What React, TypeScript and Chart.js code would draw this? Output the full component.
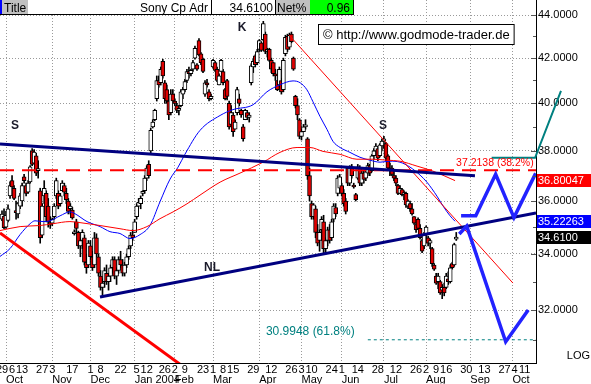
import React, { useEffect, useRef } from 'react';
import { Chart, registerables } from 'chart.js';

Chart.register(...registerables);

const FONT = '"Liberation Sans", Arial, Helvetica, sans-serif';

// x = trading-day index, 0 = Mon 29 Sep 2003
const X_MIN = -0.995;
const X_MAX = 265.67;
const Y_MIN = 30.228;
const Y_MAX = 44.718;

const dayTickIdx = [0, 5, 10, 20, 25, 35, 44, 49, 59, 67, 72, 81, 86, 91, 100, 105, 110, 115, 125, 134, 144, 149, 154, 164, 169, 177, 187, 196, 206, 211, 216, 221, 231, 240, 250, 255, 260];
const dayTickLabels = ['29', '6', '13', '27', '3', '17', '1', '8', '22', '5', '12', '26', '2', '9', '23', '1', '8', '15', '29', '12', '26', '3', '10', '24', '1', '14', '28', '12', '26', '2', '9', '16', '30', '13', '27', '4', '11'];
const monthStartIdx = [2, 25, 44, 66, 86, 105, 128, 149, 169, 190, 211, 233, 254];
const monthLabels = ['Oct', 'Nov', 'Dec', 'Jan 2004', 'Feb', 'Mar', 'Apr', 'May', 'Jun', 'Jul', 'Aug', 'Sep', 'Oct'];
const yTicks = [32, 34, 36, 38, 40, 42, 44];
const yMinorTicks = [31, 33, 35, 37, 39, 41, 43];

// daily candles [open, high, low, close]
const candles: number[][] = [
  [35.30, 35.62, 35.24, 35.50], [35.42, 35.70, 34.94, 34.98], [35.00, 35.60, 34.95, 35.45], [35.25, 35.85, 35.20, 35.70],
  [36.20, 36.75, 36.10, 36.60], [36.80, 37.00, 36.30, 36.55], [36.50, 36.60, 36.05, 36.10], [35.60, 36.00, 35.30, 35.55],
  [35.50, 35.95, 35.35, 35.90], [35.80, 36.30, 35.70, 36.20], [36.00, 36.70, 35.80, 36.60], [36.95, 37.05, 36.70, 36.80],
  [36.60, 36.70, 36.20, 36.30], [36.35, 36.80, 36.30, 36.70], [36.75, 37.40, 36.70, 37.35], [38.00, 38.10, 37.40, 37.45],
  [37.50, 38.05, 37.50, 37.95], [37.80, 37.90, 37.00, 37.10], [37.20, 37.60, 36.90, 37.25], [36.40, 36.50, 34.40, 34.60],
  [34.70, 35.90, 34.60, 35.80], [36.20, 36.80, 35.90, 36.50], [36.30, 36.40, 35.20, 35.40], [35.80, 36.10, 35.00, 35.20],
  [35.20, 35.40, 34.95, 35.10], [35.15, 35.35, 35.05, 35.30], [35.40, 35.90, 35.30, 35.80], [36.20, 36.90, 36.10, 36.80],
  [36.30, 36.40, 35.70, 35.80], [35.90, 36.30, 35.80, 36.20], [36.40, 36.80, 36.40, 36.70], [36.60, 36.70, 36.20, 36.35],
  [36.30, 36.50, 35.90, 36.05], [36.00, 36.10, 35.50, 35.60], [35.70, 35.90, 35.50, 35.80], [35.65, 35.75, 35.30, 35.35],
  [34.75, 34.90, 34.70, 34.80], [35.20, 35.30, 34.80, 34.95], [34.80, 34.85, 34.20, 34.30], [34.30, 34.60, 33.90, 34.50],
  [34.50, 34.90, 34.20, 34.80], [34.60, 34.70, 33.60, 33.70], [33.70, 34.00, 33.30, 33.50], [33.60, 34.50, 33.50, 34.40],
  [34.30, 34.50, 33.80, 33.90], [33.90, 34.10, 33.40, 33.50], [33.60, 34.80, 33.50, 34.60], [34.60, 34.75, 33.90, 34.00],
  [33.90, 34.00, 33.20, 33.30], [33.20, 33.40, 32.70, 32.80], [32.80, 33.10, 32.50, 32.95], [33.00, 33.50, 32.80, 33.40],
  [33.30, 33.60, 32.90, 33.00], [33.00, 33.30, 32.70, 33.20], [33.20, 33.60, 33.00, 33.50], [33.50, 33.90, 33.30, 33.80],
  [33.80, 33.90, 33.10, 33.20], [33.20, 33.50, 32.90, 33.40], [33.40, 33.90, 33.30, 33.80], [33.80, 34.10, 33.50, 33.60],
  [33.60, 33.80, 33.20, 33.30], [33.30, 33.70, 33.20, 33.60], [33.60, 34.00, 33.50, 33.90], [33.90, 34.30, 33.80, 34.20],
  [34.30, 34.80, 34.20, 34.70], [34.70, 34.90, 34.50, 34.60], [34.80, 35.30, 34.80, 35.20], [35.40, 35.90, 35.30, 35.80],
  [35.80, 36.10, 35.80, 35.95], [35.90, 36.20, 35.70, 36.10], [36.30, 36.40, 36.20, 36.30], [36.40, 37.00, 36.30, 36.90],
  [36.90, 37.40, 36.80, 37.30], [37.45, 37.60, 36.90, 37.00], [38.00, 38.95, 37.90, 38.85], [39.00, 39.30, 38.95, 39.20],
  [39.30, 39.75, 39.25, 39.70], [40.20, 41.20, 40.10, 41.00], [41.00, 41.20, 40.70, 40.80], [40.90, 41.60, 40.80, 41.50],
  [41.85, 41.95, 41.10, 41.20], [40.90, 41.00, 40.00, 40.20], [40.60, 40.80, 40.00, 40.10], [40.10, 40.30, 39.30, 39.50],
  [39.60, 40.60, 39.50, 40.40], [40.40, 40.60, 40.00, 40.10], [40.10, 40.20, 39.90, 40.00], [39.90, 40.00, 39.60, 39.70],
  [39.70, 39.90, 39.50, 39.75], [39.90, 40.60, 39.85, 40.50], [40.40, 40.70, 40.20, 40.60], [40.60, 41.05, 40.50, 40.95],
  [41.00, 41.50, 40.90, 41.40], [41.40, 41.60, 41.10, 41.30], [41.30, 41.50, 41.20, 41.45], [41.50, 41.90, 41.40, 41.80],
  [42.00, 42.55, 41.95, 42.45], [41.70, 41.75, 41.45, 41.50], [42.80, 42.90, 42.10, 42.15], [42.20, 42.25, 41.70, 41.80],
  [41.95, 42.00, 41.35, 41.40], [40.40, 41.00, 40.30, 40.90], [40.90, 41.05, 40.70, 40.80], [40.50, 40.60, 40.10, 40.20],
  [40.20, 40.40, 40.15, 40.30], [41.60, 41.95, 41.55, 41.90], [41.80, 41.85, 41.40, 41.45], [41.50, 41.60, 40.95, 41.00],
  [40.80, 41.30, 40.80, 41.20], [41.40, 41.95, 41.40, 41.90], [41.40, 41.50, 40.80, 40.90], [40.60, 40.65, 40.15, 40.20],
  [41.00, 41.05, 40.15, 40.30], [40.00, 40.10, 38.90, 39.00], [39.10, 39.90, 39.00, 39.60], [39.50, 39.60, 38.60, 38.80],
  [38.90, 39.30, 38.90, 39.20], [39.60, 40.70, 39.50, 40.60], [40.20, 40.40, 39.90, 40.00], [39.70, 39.75, 39.40, 39.50],
  [39.00, 39.10, 38.40, 38.50], [39.30, 39.75, 39.30, 39.70], [39.60, 39.70, 39.30, 39.40], [39.40, 39.60, 39.20, 39.50],
  [40.90, 41.75, 40.80, 41.65], [41.60, 41.95, 41.35, 41.85], [42.10, 42.15, 41.60, 41.70], [41.80, 42.40, 41.70, 42.30],
  [42.40, 42.85, 42.30, 42.80], [42.70, 42.75, 42.30, 42.35], [42.85, 43.70, 42.80, 43.60], [43.10, 43.20, 42.20, 42.30],
  [42.30, 42.45, 42.05, 42.40], [42.40, 42.45, 41.85, 41.90], [41.90, 42.00, 41.35, 41.50], [41.80, 41.80, 41.20, 41.30],
  [41.30, 41.50, 41.00, 41.20], [41.00, 41.00, 40.55, 40.60], [40.80, 41.60, 40.70, 41.50], [41.00, 41.10, 40.40, 40.50],
  [40.60, 42.00, 40.50, 41.90], [42.20, 43.05, 42.10, 42.95], [43.00, 43.10, 42.30, 42.40], [42.50, 43.15, 42.40, 43.05],
  [43.10, 43.20, 42.70, 42.75], [42.00, 42.05, 41.45, 41.50], [40.30, 40.35, 39.80, 39.90], [39.90, 40.20, 39.30, 39.50],
  [39.30, 39.35, 38.50, 38.60], [38.60, 38.90, 38.45, 38.80], [38.80, 39.10, 38.80, 39.00], [39.00, 39.30, 38.90, 39.05],
  [38.50, 38.55, 36.85, 37.00], [37.00, 37.30, 36.00, 36.20], [35.90, 36.00, 35.30, 35.40], [35.40, 35.90, 35.30, 35.85],
  [35.70, 35.80, 34.60, 34.80], [34.80, 35.10, 34.30, 34.40], [34.50, 34.90, 34.10, 34.80], [34.90, 35.40, 34.50, 35.30],
  [35.20, 35.45, 34.00, 34.20], [34.20, 34.60, 34.00, 34.50], [34.50, 35.00, 34.30, 34.90], [34.90, 35.10, 34.40, 34.50],
  [34.60, 35.30, 34.50, 35.20], [35.30, 35.90, 35.20, 35.80], [35.75, 35.90, 35.40, 35.50], [36.30, 37.00, 36.20, 36.90],
  [36.50, 37.05, 36.30, 36.95], [36.60, 36.70, 36.20, 36.30], [36.30, 36.45, 35.80, 35.90], [36.00, 36.10, 35.50, 35.60],
  [37.30, 37.35, 36.60, 36.70], [36.70, 37.40, 36.60, 37.30], [37.30, 37.45, 36.90, 37.00], [36.60, 36.70, 36.50, 36.55],
  [36.25, 36.30, 36.00, 36.05], [36.90, 37.45, 36.85, 37.35], [37.30, 37.40, 36.60, 36.70], [36.70, 37.20, 36.60, 37.10],
  [37.10, 37.20, 36.70, 36.85], [36.90, 37.20, 36.80, 37.15], [37.10, 37.50, 37.00, 37.40], [37.40, 37.45, 37.00, 37.10],
  [37.20, 37.85, 37.15, 37.80], [37.80, 38.10, 37.65, 38.00], [38.00, 38.30, 37.80, 38.20], [38.10, 38.10, 37.60, 37.70],
  [37.80, 38.30, 37.75, 38.25], [38.20, 38.50, 38.00, 38.40], [38.40, 38.60, 38.10, 38.50], [38.30, 38.35, 37.60, 37.70],
  [37.80, 37.85, 37.20, 37.30], [37.30, 37.50, 37.00, 37.20], [37.30, 37.40, 37.00, 37.05], [37.00, 37.20, 36.80, 36.90],
  [36.90, 37.00, 36.60, 36.70], [36.60, 36.65, 36.25, 36.30], [36.30, 36.60, 36.30, 36.50], [36.45, 36.50, 36.20, 36.25],
  [36.25, 36.40, 36.05, 36.30], [36.30, 36.35, 35.75, 35.85], [35.80, 36.05, 35.70, 36.00], [35.90, 36.00, 35.60, 35.70],
  [35.70, 35.90, 35.45, 35.50], [35.40, 35.40, 35.10, 35.15], [35.10, 35.30, 34.80, 34.90], [35.30, 35.35, 34.90, 34.95],
  [34.95, 35.10, 34.55, 34.60], [34.50, 34.55, 34.05, 34.10], [34.30, 34.80, 34.20, 34.70], [34.70, 35.05, 34.60, 35.00],
  [34.60, 34.65, 34.30, 34.40], [34.40, 34.55, 34.20, 34.50], [34.20, 34.25, 33.55, 33.65], [33.60, 33.65, 33.40, 33.45],
  [33.20, 33.30, 32.90, 32.95], [33.00, 33.30, 32.75, 33.20], [33.00, 33.05, 32.55, 32.60], [32.70, 32.90, 32.40, 32.80],
  [32.80, 32.95, 32.50, 32.60], [32.80, 33.30, 32.75, 33.20], [33.10, 33.35, 32.90, 33.00], [33.00, 33.60, 32.95, 33.50],
  [33.65, 33.70, 33.45, 33.50], [33.60, 34.40, 33.55, 34.35], [34.55, 34.80, 34.50, 34.61],
];

// moving averages [index, value]
const maFast: number[][] = [
  [-1, 33.91], [4, 34.20], [9, 34.72], [14, 35.13], [16.4, 35.24], [20.4, 35.21], [23.9, 35.24], [28.9, 35.43],
  [33.8, 35.58], [36.3, 35.51], [42.3, 35.21], [48.8, 35.02], [53.7, 34.83], [58.7, 34.76], [63.7, 34.57],
  [68.7, 34.72], [73.6, 35.06], [78.6, 35.97], [83.6, 36.86], [87.6, 37.34], [91, 37.86], [98.5, 38.85],
  [108.5, 39.48], [114.9, 39.73], [124.9, 39.94], [131.8, 40.50], [138.3, 40.81], [144.8, 40.98], [148.3, 40.90],
  [151.7, 40.59], [154.7, 40.07], [158.2, 39.44], [161.7, 38.89], [164.7, 38.39], [168.2, 38.14], [173.1, 37.94],
  [178.1, 37.74], [183.1, 37.62], [188.1, 37.54], [193, 37.58], [198, 37.54], [203, 37.34], [208, 37.02],
  [211.4, 36.74], [216.4, 36.19], [219.4, 35.81], [222.9, 35.43], [225.4, 35.22263],
];
const maSlow: number[][] = [
  [-1, 34.87], [9, 35.02], [18.9, 35.06], [25.4, 35.13], [33.8, 35.21], [38.8, 35.17], [48.8, 35.06],
  [58.7, 34.94], [65.2, 34.87], [72.1, 35.02], [78.6, 35.32], [85.1, 35.58], [92, 35.89], [98.5, 36.23],
  [108.5, 36.74], [118.4, 37.10], [129.9, 37.54], [138.3, 37.94], [146.8, 38.14], [153.2, 38.14], [159.7, 37.98],
  [168.2, 37.86], [176.6, 37.66], [184.6, 37.66], [191.5, 37.62], [198, 37.58], [206.5, 37.38], [214.4, 37.18],
  [225.4, 36.80047],
];

// drawn studies [index, value]
const shoulderLine = [[-1, 38.28], [235.3, 36.99]];
const neckLine = [[48.76, 32.46], [265.67, 35.54]];
const redSupport = [[-1, 34.78], [91.0, 30.07]];
const redDownTrend = [[142.8, 43.06], [254.2, 32.95]];
const fib382 = 37.2138;
const fib618 = 30.9948;
const tealPath = [[243.6, 37.72], [265.2, 37.72], [278.1, 40.54]];
const bullPath = [[228.4, 35.43], [235.7, 35.43], [245.6, 37.05], [254.7, 35.36], [265.5, 37.09]];
const bearPath = [[227.5, 34.74], [231.2, 35.04], [250.6, 30.93], [261.8, 32.01]];
const markers = [
  { t: 'S', x: 6.5, y: 39.04 },
  { t: 'K', x: 119.4, y: 43.39 },
  { t: 'S', x: 189.6, y: 39.06 },
  { t: 'NL', x: 104.5, y: 33.49 },
];
const lastClose = 34.61;
const maFastLast = 35.22263;
const maSlowLast = 36.80047;

const pts = (a: number[][]) => a.map(([x, y]) => ({ x, y }));

const lineDs = (data: any[], color: string, width: number, order: number, extra: any = {}) => ({
  type: 'line',
  data,
  borderColor: color,
  backgroundColor: color,
  borderWidth: width,
  pointRadius: 0,
  fill: false,
  tension: 0,
  order,
  ...extra,
});

const overlayPlugin = {
  id: 'overlay',
  beforeDraw(chart: any) {
    const { ctx, width, height } = chart;
    ctx.save();
    ctx.fillStyle = '#ffffff';
    ctx.fillRect(0, 0, width, height);
    ctx.restore();
  },
  afterDatasetsDraw(chart: any) {
    const { ctx } = chart;
    const xs = chart.scales.x;
    const ys = chart.scales.y;
    ctx.save();
    ctx.textAlign = 'center';
    ctx.textBaseline = 'middle';
    ctx.fillStyle = '#1a1a2a';
    markers.forEach((m) => {
      ctx.font = `bold 12px ${FONT}`;
      ctx.fillText(m.t, xs.getPixelForValue(m.x), ys.getPixelForValue(m.y));
    });
    ctx.textAlign = 'left';
    ctx.textBaseline = 'bottom';
    ctx.font = `10.5px ${FONT}`;
    ctx.fillStyle = '#ff0000';
    ctx.fillText('37.2138 (38.2%)', xs.getPixelForValue(225.9), ys.getPixelForValue(fib382) - 2);
    ctx.font = `12px ${FONT}`;
    ctx.fillStyle = '#008080';
    ctx.fillText('30.9948 (61.8%)', xs.getPixelForValue(131.3), ys.getPixelForValue(fib618) - 2);
    ctx.restore();
  },
  afterDraw(chart: any) {
    const { ctx } = chart;
    const ys = chart.scales.y;
    const area = chart.chartArea;
    ctx.save();
    // minor / major ticks on right axis
    ctx.strokeStyle = '#555';
    ctx.lineWidth = 1;
    yTicks.forEach((v) => {
      const py = Math.round(ys.getPixelForValue(v)) + 0.5;
      ctx.beginPath(); ctx.moveTo(area.right - 5, py); ctx.lineTo(area.right, py); ctx.stroke();
    });
    yMinorTicks.forEach((v) => {
      const py = Math.round(ys.getPixelForValue(v)) + 0.5;
      ctx.beginPath(); ctx.moveTo(area.right - 3, py); ctx.lineTo(area.right, py); ctx.stroke();
    });
    // value boxes
    const boxes = [
      { v: maSlowLast, bg: '#ff0000', t: '36.80047' },
      { v: maFastLast, bg: '#0000ff', t: '35.22263' },
      { v: lastClose, bg: '#000000', t: '34.6100' },
    ];
    ctx.font = `11px ${FONT}`;
    ctx.textBaseline = 'middle';
    ctx.textAlign = 'left';
    boxes.forEach((b) => {
      const py = ys.getPixelForValue(b.v);
      ctx.fillStyle = b.bg;
      ctx.fillRect(area.right + 1, Math.round(py - 6.5), 55, 13);
      ctx.fillStyle = '#ffffff';
      ctx.fillText(b.t, area.right + 2, py + 0.5);
    });
    // LOG
    ctx.fillStyle = '#000';
    ctx.textAlign = 'right';
    ctx.textBaseline = 'alphabetic';
    ctx.fillText('LOG', 590, area.bottom - 4);

    // header
    ctx.fillStyle = '#ffffff';
    ctx.fillRect(0, 0, 353, 15);
    ctx.fillStyle = '#0000ff';
    ctx.fillRect(0, 0, 2, 15);
    ctx.fillStyle = '#c0c0c0';
    ctx.fillRect(2, 0, 26, 14);
    ctx.fillRect(276, 0, 34, 14);
    ctx.fillStyle = '#00ff00';
    ctx.fillRect(310, 0, 43, 14);
    ctx.strokeStyle = '#000';
    ctx.lineWidth = 1;
    ctx.beginPath();
    ctx.moveTo(0, 14.5); ctx.lineTo(353, 14.5);
    ctx.moveTo(211.5, 0); ctx.lineTo(211.5, 15);
    ctx.moveTo(275.5, 0); ctx.lineTo(275.5, 15);
    ctx.moveTo(353.5, 0); ctx.lineTo(353.5, 15);
    ctx.stroke();
    ctx.fillStyle = '#000';
    ctx.font = `12px ${FONT}`;
    ctx.textAlign = 'left';
    ctx.fillText('Title', 4, 12);
    ctx.fillText('Net%', 277, 12);
    ctx.textAlign = 'right';
    ctx.fillText('Sony Cp Adr', 208, 12);
    ctx.fillText('34.6100', 273, 12);
    ctx.fillText('0.96', 350, 12);

    // copyright box
    ctx.font = `13px ${FONT}`;
    const txt = '\u00a9 http://www.godmode-trader.de';
    const w = ctx.measureText(txt).width;
    ctx.fillStyle = '#ffffff';
    ctx.fillRect(318.5, 24.5, w + 9, 20);
    ctx.strokeStyle = '#000';
    ctx.strokeRect(318.5, 24.5, w + 9, 20);
    ctx.fillStyle = '#000';
    ctx.textAlign = 'left';
    ctx.fillText(txt, 323, 39);
    ctx.restore();
  },
};

export default function App() {
  const ref = useRef<HTMLCanvasElement>(null);

  useEffect(() => {
    const canvas = ref.current;
    if (!canvas) return;

    const wickData = candles.map((c, i) => ({ x: i, y: [c[2], c[1]] }));
    const bodyData = candles.map((c, i) => ({ x: i, y: [Math.min(c[0], c[3]), Math.max(c[0], c[3])] }));
    const bodyColors = candles.map((c) => (c[3] >= c[0] ? '#ffffff' : '#e00000'));

    const gridDash = [1, 2];

    const chart = new Chart(canvas, {
      type: 'line',
      data: {
        datasets: [
          {
            type: 'bar',
            data: wickData,
            backgroundColor: '#000000',
            borderWidth: 0,
            barThickness: 1,
            grouped: false,
            order: 11,
          } as any,
          {
            type: 'bar',
            data: bodyData,
            backgroundColor: bodyColors,
            borderColor: '#000000',
            borderWidth: 1,
            borderSkipped: false,
            barThickness: 4,
            minBarLength: 2,
            grouped: false,
            order: 10,
          } as any,
          lineDs(pts(maSlow), '#ff0000', 1, 6, { cubicInterpolationMode: 'monotone' }),
          lineDs(pts(maFast), '#0000ff', 1, 6, { cubicInterpolationMode: 'monotone' }),
          lineDs(pts(redDownTrend), '#ff0000', 1, 5),
          lineDs(pts(redSupport), '#ff0000', 3, 5),
          lineDs([{ x: X_MIN, y: fib382 }, { x: X_MAX, y: fib382 }], '#ff0000', 2, 5, { borderDash: [14, 8] }),
          lineDs([{ x: 182, y: fib618 }, { x: X_MAX, y: fib618 }], '#008080', 1, 5, { borderDash: [3, 3] }),
          lineDs(pts(shoulderLine), '#000080', 3, 4),
          lineDs(pts(neckLine), '#000080', 3, 4),
          lineDs(pts(tealPath), '#008080', 2, 3, { clip: false }),
          lineDs(pts(bullPath), '#2222ff', 3.5, 2),
          lineDs(pts(bearPath), '#2222ff', 3.5, 2),
        ] as any,
      },
      options: {
        responsive: false,
        devicePixelRatio: 1,
        animation: false,
        events: [],
        layout: { padding: 0 },
        plugins: { legend: { display: false }, tooltip: { enabled: false }, title: { display: false } },
        scales: {
          x: {
            type: 'linear',
            position: 'bottom',
            min: X_MIN,
            max: X_MAX,
            offset: false,
            weight: 0,
            afterBuildTicks: (s: any) => { s.ticks = monthStartIdx.map((v) => ({ value: v })); },
            afterFit: (s: any) => { s.height = 0; s.paddingLeft = 0; s.paddingRight = 0; },
            ticks: { display: false },
            grid: { display: true, color: '#9a9a9a', lineWidth: 1, drawTicks: false, offset: false },
            border: { display: true, color: '#000000', width: 1, dash: gridDash },
          },
          xDays: {
            type: 'linear',
            position: 'bottom',
            min: X_MIN,
            max: X_MAX,
            offset: false,
            weight: 1,
            afterBuildTicks: (s: any) => { s.ticks = dayTickIdx.map((v) => ({ value: v })); },
            afterFit: (s: any) => { s.height = 10; s.paddingLeft = 0; s.paddingRight = 0; },
            ticks: {
              autoSkip: false,
              maxRotation: 0,
              minRotation: 0,
              padding: 0,
              color: '#000000',
              font: { family: FONT, size: 11 },
              callback: (v: any) => dayTickLabels[dayTickIdx.indexOf(Number(v))] ?? '',
            },
            grid: { display: false, drawTicks: false },
            border: { display: false },
          },
          xMonths: {
            type: 'linear',
            position: 'bottom',
            min: X_MIN,
            max: X_MAX,
            offset: false,
            weight: 2,
            afterBuildTicks: (s: any) => { s.ticks = monthStartIdx.map((v) => ({ value: v })); },
            afterFit: (s: any) => { s.height = 11; s.paddingLeft = 0; s.paddingRight = 0; },
            ticks: {
              autoSkip: false,
              maxRotation: 0,
              minRotation: 0,
              padding: 0,
              align: 'start',
              color: '#000000',
              font: { family: FONT, size: 11 },
              callback: (v: any) => monthLabels[monthStartIdx.indexOf(Number(v))] ?? '',
            },
            grid: { display: false, drawTicks: false },
            border: { display: false },
          },
          y: {
            type: 'logarithmic',
            position: 'right',
            min: Y_MIN,
            max: Y_MAX,
            afterBuildTicks: (s: any) => { s.ticks = yTicks.map((v) => ({ value: v })); },
            afterFit: (s: any) => { s.width = 55; s.paddingTop = 0; s.paddingBottom = 0; },
            ticks: {
              autoSkip: false,
              padding: 2,
              color: '#000000',
              font: { family: FONT, size: 11 },
              callback: (v: any) => Number(v).toFixed(4),
            },
            grid: { display: true, color: '#9a9a9a', lineWidth: 1, drawTicks: false },
            border: { display: true, color: '#000000', width: 1, dash: gridDash },
          },
        } as any,
      },
      plugins: [overlayPlugin as any],
    });

    return () => chart.destroy();
  }, []);

  return (
    <div style={{ position: 'absolute', left: 0, top: 0, width: 591, height: 384, background: '#ffffff' }}>
      <canvas ref={ref} width={591} height={384} style={{ display: 'block', width: 591, height: 384 }} />
    </div>
  );
}
